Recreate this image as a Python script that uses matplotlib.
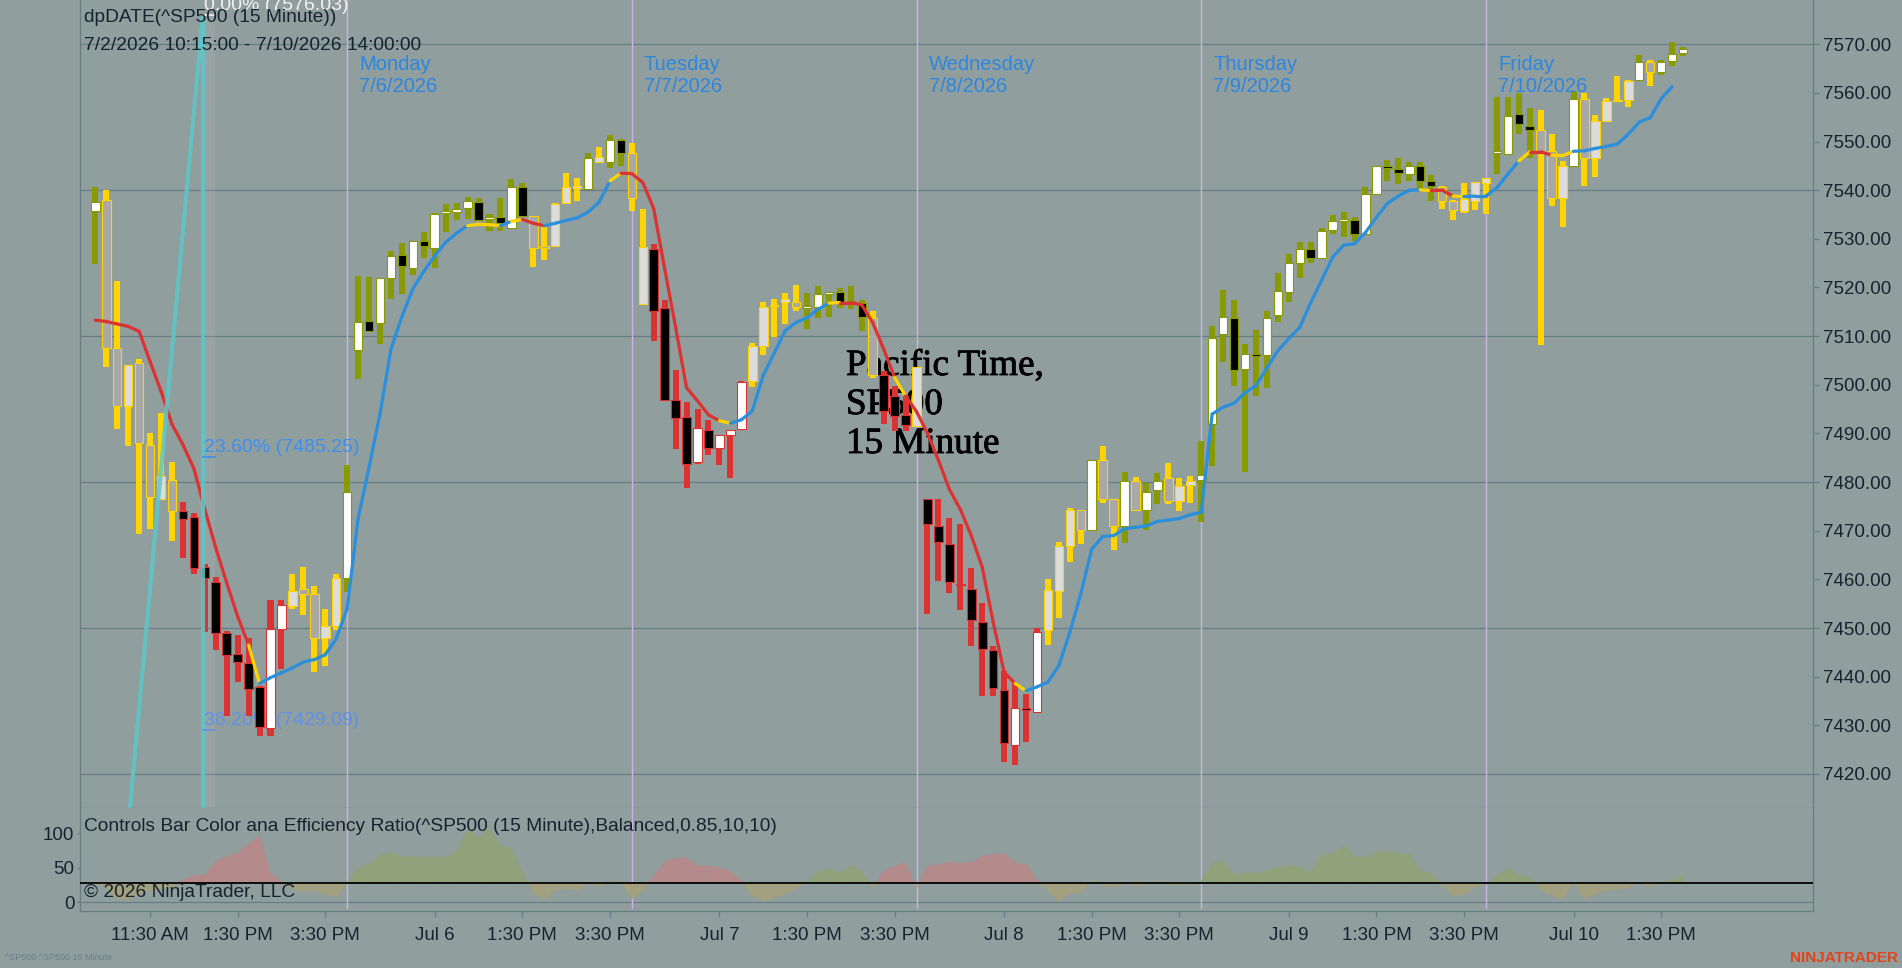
import numpy as np
import matplotlib
matplotlib.use('Agg')
import matplotlib.pyplot as plt
import matplotlib.patheffects as pe
from matplotlib.collections import LineCollection, PolyCollection

plt.rcParams['font.family'] = ['Liberation Sans', 'DejaVu Sans']

# ---------------- data ----------------
opens = [7535.8, 7537.9, 7507.6, 7495.7, 7504.4, 7487.7, 7476.6, 7480.5, 7474.1, 7472.8,
         7462.5, 7459.5, 7449.0, 7444.7, 7442.9, 7437.8, 7429.5, 7449.8, 7454.5, 7458.0,
         7457.0, 7448.0, 7450.5, 7460.2,
         7507.1, 7513.1, 7512.8, 7521.9, 7526.6, 7524.1, 7529.5, 7528.2, 7535.4, 7535.6,
         7536.3, 7537.5, 7534.0, 7534.4, 7532.2, 7540.6, 7534.6, 7528.6, 7528.6, 7537.3,
         7540.6, 7540.3, 7545.9, 7545.9, 7550.3, 7547.7,
         7516.7, 7528.0, 7515.7, 7496.9, 7493.3, 7484.1, 7490.8, 7487.0, 7489.7, 7490.9,
         7500.8, 7507.9, 7516.1, 7517.0, 7517.0, 7515.9, 7516.0, 7518.8, 7519.1, 7517.2,
         7516.9, 7513.8, 7502.0, 7497.7, 7493.8, 7491.6,
         7476.5, 7471.0, 7467.3, 7459.0, 7458.0, 7451.2, 7445.5, 7437.3, 7426.0, 7433.4,
         7432.8, 7449.6, 7457.7, 7466.8, 7474.3, 7470.2, 7484.6, 7476.6, 7470.9, 7480.3,
         7474.3, 7478.3, 7480.8, 7476.2, 7479.4, 7480.4,
         7491.9, 7510.4, 7513.7, 7503.2, 7506.3, 7506.1, 7514.3, 7519.0, 7525.1, 7527.9,
         7526.1, 7531.8, 7533.8, 7533.8, 7531.0, 7539.3, 7544.9, 7544.4, 7543.3, 7545.0,
         7541.9, 7540.6, 7537.8, 7535.7, 7537.8, 7541.4,
         7547.8, 7547.4, 7555.6, 7553.3, 7552.4, 7548.1, 7538.3, 7544.9, 7558.8, 7546.7,
         7554.3, 7558.3, 7558.6, 7562.6, 7566.4, 7564.2, 7566.6, 7568.2]
highs = [7540.7, 7540.0, 7521.3, 7504.1, 7505.2, 7490.1, 7494.2, 7484.2, 7475.9, 7473.7,
         7463.2, 7460.5, 7449.4, 7448.6, 7448.0, 7438.1, 7455.8, 7455.8, 7461.1, 7462.5,
         7458.6, 7453.9, 7461.1, 7483.6,
         7522.4, 7522.1, 7521.9, 7527.4, 7529.1, 7529.5, 7531.5, 7535.4, 7537.1, 7537.3,
         7538.7, 7538.5, 7535.2, 7538.3, 7542.3, 7541.4, 7534.7, 7532.7, 7537.3, 7543.5,
         7542.6, 7547.7, 7548.8, 7551.3, 7550.5, 7549.7,
         7536.1, 7529.0, 7517.5, 7503.1, 7496.4, 7495.1, 7492.7, 7489.7, 7490.7, 7500.8,
         7508.5, 7517.1, 7517.6, 7518.8, 7520.5, 7518.8, 7520.3, 7519.0, 7519.8, 7520.3,
         7517.5, 7515.2, 7502.9, 7499.8, 7497.7, 7503.6,
         7476.6, 7476.5, 7472.6, 7471.4, 7462.3, 7455.1, 7446.4, 7441.2, 7438.7, 7436.4,
         7449.9, 7460.1, 7467.7, 7474.6, 7474.3, 7484.6, 7487.5, 7476.6, 7482.0, 7481.0,
         7479.8, 7481.9, 7484.0, 7480.8, 7481.2, 7488.4,
         7512.0, 7519.5, 7517.4, 7508.4, 7511.2, 7515.2, 7522.9, 7526.9, 7529.4, 7529.3,
         7532.3, 7534.9, 7535.6, 7534.4, 7540.6, 7545.0, 7546.2, 7546.7, 7545.7, 7545.9,
         7543.1, 7540.8, 7537.9, 7541.4, 7541.6, 7542.6,
         7559.2, 7559.2, 7559.9, 7556.9, 7556.4, 7551.5, 7546.0, 7560.4, 7559.9, 7555.4,
         7559.0, 7563.4, 7562.6, 7567.7, 7566.7, 7566.8, 7570.4, 7569.5]
lows = [7524.8, 7503.7, 7490.9, 7487.5, 7469.3, 7470.3, 7476.5, 7467.8, 7464.4, 7461.1,
        7449.2, 7445.4, 7431.9, 7439.0, 7431.9, 7427.7, 7427.7, 7441.6, 7453.9, 7452.6,
        7440.9, 7442.2, 7449.5, 7457.4,
        7501.2, 7510.8, 7508.4, 7517.7, 7518.6, 7522.5, 7526.0, 7524.1, 7531.5, 7533.9,
        7534.0, 7533.8, 7531.6, 7531.6, 7532.0, 7534.4, 7524.3, 7525.6, 7528.6, 7537.3,
        7537.8, 7540.0, 7545.7, 7544.6, 7545.0, 7535.8,
        7516.6, 7508.9, 7496.9, 7486.9, 7478.7, 7483.7, 7485.6, 7483.6, 7480.8, 7490.9,
        7499.6, 7506.2, 7509.9, 7512.5, 7515.2, 7511.4, 7513.8, 7514.0, 7515.8, 7515.6,
        7511.1, 7501.3, 7491.9, 7490.5, 7490.5, 7491.6,
        7452.9, 7459.7, 7457.1, 7453.6, 7446.2, 7436.0, 7436.1, 7422.4, 7421.9, 7426.5,
        7432.8, 7446.6, 7452.0, 7463.6, 7467.3, 7470.2, 7475.8, 7466.1, 7467.5, 7474.1,
        7470.2, 7475.4, 7475.4, 7474.1, 7475.6, 7471.7,
        7483.4, 7504.7, 7499.8, 7482.0, 7497.7, 7499.4, 7512.9, 7517.1, 7521.9, 7525.1,
        7526.0, 7531.0, 7530.3, 7529.5, 7531.0, 7539.2, 7541.9, 7541.2, 7541.9, 7540.2,
        7537.8, 7536.1, 7533.9, 7535.4, 7535.9, 7535.1,
        7543.4, 7547.3, 7551.5, 7546.6, 7508.2, 7536.8, 7532.5, 7544.9, 7540.8, 7542.7,
        7554.3, 7558.2, 7557.1, 7562.5, 7561.4, 7563.7, 7565.5, 7567.6]
closes = [7537.5, 7507.6, 7495.6, 7504.1, 7488.0, 7476.9, 7481.3, 7474.0, 7472.5, 7462.3,
          7460.2, 7449.0, 7444.4, 7443.1, 7437.5, 7429.6, 7449.8, 7454.7, 7457.7, 7457.0,
          7448.0, 7450.5, 7460.2, 7477.9,
          7512.9, 7511.1, 7521.9, 7526.4, 7524.5, 7529.5, 7528.5, 7535.2, 7535.8, 7536.1,
          7537.7, 7533.9, 7534.5, 7533.2, 7540.6, 7534.6, 7528.2, 7528.2, 7537.1, 7540.7,
          7540.8, 7546.6, 7546.9, 7550.3, 7547.7, 7538.5,
          7528.4, 7515.2, 7496.9, 7493.1, 7483.7, 7491.2, 7487.1, 7489.7, 7490.7, 7500.5,
          7507.9, 7516.0, 7516.4, 7517.6, 7516.0, 7516.1, 7518.6, 7519.0, 7517.1, 7516.9,
          7513.9, 7502.0, 7494.7, 7493.6, 7491.7, 7503.6,
          7471.4, 7467.7, 7459.5, 7458.9, 7451.7, 7445.7, 7437.7, 7426.4, 7433.5, 7433.3,
          7449.1, 7457.9, 7466.8, 7474.3, 7470.2, 7484.6, 7476.6, 7470.9, 7480.3, 7474.3,
          7477.9, 7480.3, 7476.2, 7479.1, 7480.3, 7481.5,
          7509.7, 7514.0, 7503.1, 7506.4, 7506.0, 7513.8, 7519.3, 7525.1, 7528.0, 7526.1,
          7531.7, 7533.7, 7534.0, 7531.0, 7539.2, 7544.9, 7544.6, 7543.5, 7545.0, 7541.9,
          7540.8, 7537.8, 7536.0, 7538.2, 7541.6, 7542.5,
          7548.0, 7555.3, 7553.6, 7552.3, 7548.1, 7538.3, 7545.0, 7558.8, 7546.7, 7554.3,
          7558.4, 7558.5, 7562.5, 7566.4, 7564.2, 7566.4, 7568.1, 7569.0]
# bar trend colour per bar: o = up (olive), y = neutral (gold), r = down (red)
trend_jul2 = "o" + "y" * 7 + "r" * 10 + "y" * 5 + "o"
trend_jul6 = "o" * 16 + "y" * 5 + "o" + "y" + "o" + "o" + "y"
trend_jul7 = "y" + "r" * 9 + "y" * 5 + "o" * 6 + "y" + "r" * 3 + "y"
trend_jul8 = "r" * 11 + "y" * 4 + "o" + "y" * 2 + "o" + "y" + "o" * 2 + "y" * 3 + "o"
trend_jul9 = "o" * 21 + "y" * 5
trend_jul10 = "o" * 4 + "y" * 3 + "o" + "y" * 5 + "o" + "y" + "o" * 3
bar_trend = list(trend_jul2 + trend_jul6 + trend_jul7 + trend_jul8 + trend_jul9 + trend_jul10)

# moving average
ma = [7513.3, 7513.0, 7512.5, 7512.0, 7511.0, 7504.8, 7498.7, 7491.9, 7487.7, 7482.8,
      7474.4, 7466.5, 7459.3, 7452.4, 7446.5, 7438.6, 7439.8, 7440.8, 7441.8, 7443.0,
      7443.5, 7444.5, 7447.8, 7454.0,
      7472.5, 7483.0, 7494.0, 7507.3, 7514.0, 7519.7, 7523.3, 7526.5, 7529.3, 7531.2,
      7532.7, 7533.0, 7532.9, 7532.7, 7533.6, 7534.0, 7533.2, 7532.7, 7533.2, 7533.8,
      7534.3, 7535.5, 7537.5, 7541.9, 7543.5, 7543.4,
      7541.6, 7536.2, 7523.8, 7511.8, 7499.4, 7496.7, 7493.8, 7492.6, 7492.1, 7492.8,
      7494.6, 7501.9, 7506.5, 7511.1, 7512.8, 7513.8, 7515.5, 7516.8, 7516.9, 7516.9,
      7516.4, 7512.8, 7507.3, 7501.5, 7497.7, 7494.5,
      7490.0, 7484.5, 7478.5, 7474.4, 7469.0, 7462.5, 7451.2, 7440.9, 7438.6, 7437.1,
      7437.9, 7438.9, 7442.3, 7449.1, 7457.0, 7466.2, 7468.8, 7469.0, 7470.4, 7470.7,
      7471.0, 7471.9, 7472.2, 7472.5, 7473.3, 7473.8,
      7494.0, 7495.4, 7496.2, 7498.4, 7499.8, 7503.5, 7507.0, 7509.5, 7511.8, 7516.9,
      7521.5, 7526.2, 7528.7, 7529.0, 7531.3, 7534.4, 7537.3, 7538.8, 7540.0, 7540.1,
      7539.9, 7540.0, 7538.8, 7538.7, 7538.8, 7538.8,
      7540.5, 7543.3, 7546.0, 7547.9, 7547.9, 7547.2, 7547.1, 7548.0, 7548.1, 7548.6,
      7549.0, 7549.5, 7551.5, 7554.0, 7554.9, 7558.8, 7561.3, np.nan]
# colour of the MA segment ending at each bar: b = up, r = down, y = neutral
ma_trend = list("r" * 15 + "y" + "b" * 19 + "yyy" + "b" + "y" + "rr" + "b" * 6 + "y"
                + "r" * 9 + "y" + "b" * 9 + "y" + "r" * 5 + "y" + "r" * 10 + "y"
                + "b" * 36 + "y" + "rr" + "y" + "b" * 5 + "y" + "rr" + "yy" + "b" * 10)
# efficiency ratio indicator
er = [30, 20, 5, 5, 12, 17, 19, 22, 32, 39, 39, 59, 67, 71.5, 84, 97, 42, 30, 19, 16,
      17, 12, 7, 29,
      51, 55, 69, 72, 67, 66, 66, 65, 65, 73, 107, 92, 107, 83, 78, 42, 13, 4, 17, 20,
      17, 29, 22, 31, 29, 5,
      17, 39, 58, 64, 64, 53, 53, 50, 45, 31, 10, 1, 7, 12, 20, 30, 44, 49, 43, 53,
      46, 20, 46, 52, 58, 20,
      53, 55, 58, 57, 58, 66.7, 70.5, 70.5, 57, 55, 32, 17, 0.5, 13.5, 13.5, 32, 25, 21.6,
      30.4, 23, 29.5, 30.4, 25, 25.6, 26, 30.4,
      57, 60.4, 40, 43.5, 42, 45.9, 50.7, 53, 51.7, 43.5, 69, 70.5, 82.6, 65.7, 65.7, 72.9,
      73.9, 71.5, 70.5, 46, 42, 25, 10, 11.6, 23, 26,
      39, 49, 40, 37, 18, 10, 4, 30, 4, 12.6, 17.4, 18.4, 21.3, 29, 22, 29, 33, 39]
er_threshold = 27.5

session_bars = [24, 26, 26, 26, 26, 18]
day_names = ["Monday", "Tuesday", "Wednesday", "Thursday", "Friday"]
day_dates = ["7/6/2026", "7/7/2026", "7/8/2026", "7/9/2026", "7/10/2026"]

x_tick_pos = [5, 13, 21, 31, 39, 47, 57, 65, 73, 83, 91, 99, 109, 117, 125, 135, 143]
x_tick_lab = ["11:30 AM", "1:30 PM", "3:30 PM", "Jul 6", "1:30 PM", "3:30 PM",
              "Jul 7", "1:30 PM", "3:30 PM", "Jul 8", "1:30 PM", "3:30 PM",
              "Jul 9", "1:30 PM", "3:30 PM", "Jul 10", "1:30 PM"]
price_ticks = list(range(7420, 7571, 10))
price_grid = list(range(7420, 7571, 30))

fib_anchor_x = [-5.89, 9.82]
fib_anchor_price = [7191.37, 7576.03]
fib_ratios = [0.0, 0.236, 0.382]

# ---------------- style ----------------
BG = '#909e9d'
GRID = '#687c85'
TXT = '#17232c'
OLIVE = '#889a00'
YEL = '#ffd400'
RED = '#dc3232'
LIGHT = '#dcdcdc'
MED = '#a8a8a8'
BLUE = '#2a8fdc'
SEP = '#c9b3ea'
DAYTXT = '#2d86e0'
CYAN = '#5ec8c8'
FILL_R = '#b48a8a'
FILL_G = '#8fa27a'
FILL_Y = '#a2a07f'
trend_col = {'o': OLIVE, 'y': YEL, 'r': RED}
ma_col = {'b': BLUE, 'r': RED, 'y': YEL}

W, H = 1902, 968
fig = plt.figure(figsize=(W / 100, H / 100), dpi=100)
fig.patch.set_facecolor(BG)
ax = fig.add_axes([80 / W, 1 - 808 / H, (1813 - 80) / W, 808 / H])
axi = fig.add_axes([80 / W, 1 - 911 / H, (1813 - 80) / W, (911 - 808) / H])
for a in (ax, axi):
    a.set_facecolor(BG)
    for s in a.spines.values():
        s.set_color(GRID)
        s.set_linewidth(0.9)
    a.spines['top'].set_visible(False)

n = len(closes)
ax.set_xlim(-1.397, 156.87)
axi.set_xlim(-1.397, 156.87)
ax.set_ylim(7413.0, 7579.1)
axi.set_ylim(-12.6, 136.7)

# grid
for p in price_grid:
    ax.axhline(p, color=GRID, lw=0.9, zorder=1)
sep_idx = np.cumsum(session_bars)[:-1] - 1
for s in sep_idx:
    ax.axvline(s, color=SEP, lw=1.0, zorder=1.5)
    axi.axvline(s, color=SEP, lw=1.0, ymin=0.032, ymax=1, zorder=1.5)

# candles
o = np.array(opens); h = np.array(highs); l = np.array(lows); c = np.array(closes)
for i in range(n):
    t = bar_trend[i]
    col = trend_col[t]
    ax.bar(i, h[i] - l[i], bottom=l[i], width=0.55, color=col, zorder=3, linewidth=0)
    up = c[i] >= o[i]
    if t == 'y':
        fill = LIGHT if up else MED
    else:
        fill = 'white' if up else 'black'
    if abs(c[i] - o[i]) >= 0.3:
        bh, bot = abs(c[i] - o[i]), min(o[i], c[i])
    else:
        bh, bot = 0.3, (o[i] + c[i]) / 2 - 0.15
    ax.bar(i, bh, bottom=bot, width=0.78, facecolor=fill, edgecolor=col,
           linewidth=0.8, zorder=3.5)

# moving average
segs, cols = [], []
for i in range(1, n):
    if np.isnan(ma[i]) or np.isnan(ma[i - 1]):
        continue
    segs.append([(i - 1, ma[i - 1]), (i, ma[i])])
    cols.append(ma_col[ma_trend[i]])
ax.add_collection(LineCollection(segs, colors=cols, linewidths=2.3, zorder=4,
                                 capstyle='round'))

# fibonacci
fx0, fx1 = fib_anchor_x
fp0, fp1 = fib_anchor_price
ax.plot([fx0, fx1], [fp0, fp1], color=CYAN, lw=3.0, alpha=0.85, zorder=5,
        solid_capstyle='butt')
ax.plot([fx1, fx1], [fp0, fp1], color=CYAN, lw=3.0, alpha=0.85, zorder=5,
        solid_capstyle='butt')
ax.fill_between([fx1, fx1 + 1.1], fp0, fp1, color='white', alpha=0.07, zorder=1.8,
                linewidth=0)
fib_cols = ['#f2f2f2', '#3d8ff2', '#6190ea']
for r, fc in zip(fib_ratios, fib_cols):
    lvl = fp1 - r * (fp1 - fp0)
    ax.plot([fx1, fx1 + 1.1], [lvl, lvl], color=fc, lw=1.2, zorder=5)
    ax.text(fx1 + 0.1, lvl + 0.1, f"{r * 100:.2f}% ({lvl:.2f})", color=fc,
            fontsize=14, ha='left', va='bottom', zorder=2, clip_on=True)

# axes ticks
ax.set_xticks([])
ax.yaxis.tick_right()
ax.set_yticks(price_ticks)
ax.set_yticklabels([f"{p:.2f}" for p in price_ticks])
ax.tick_params(axis='y', length=4, width=0.9, color=GRID, pad=3, labelsize=13.5,
               labelcolor=TXT)

axi.set_yticks([0, 50, 100])
axi.set_yticklabels(['0', '50', '100'])
axi.tick_params(axis='y', length=2.5, width=0.9, color=GRID, pad=1.5, labelsize=13.5,
                labelcolor=TXT)
axi.set_xticks(x_tick_pos)
axi.set_xticklabels(x_tick_lab)
axi.tick_params(axis='x', length=4.3, width=0.9, color=GRID, pad=7, labelsize=13.5,
                labelcolor=TXT)

# indicator fills
polys, pcols = [], []


def above_col(t):
    return FILL_R if t == 'r' else FILL_G


thr = er_threshold
for i in range(1, n):
    v0, v1 = er[i - 1], er[i]
    t0, t1 = bar_trend[i - 1], bar_trend[i]
    a0, a1 = v0 > thr, v1 > thr
    if a0 == a1:
        if a0:
            col = above_col(t1 if t1 != 'y' else t0)
        else:
            col = FILL_Y
        polys.append([(i - 1, thr), (i - 1, v0), (i, v1), (i, thr)])
        pcols.append(col)
    else:
        xc = (i - 1) + (thr - v0) / (v1 - v0)
        polys.append([(i - 1, thr), (i - 1, v0), (xc, thr)])
        pcols.append(above_col(t0) if a0 else FILL_Y)
        polys.append([(xc, thr), (i, v1), (i, thr)])
        pcols.append(above_col(t1) if a1 else FILL_Y)
axi.add_collection(PolyCollection(polys, facecolors=pcols, edgecolors=pcols,
                                  linewidths=0.3, zorder=2))
axi.axhline(0, color=GRID, lw=0.9, zorder=1)
axi.axhline(thr, color='black', lw=1.3, zorder=3)

axi.text(4 / 1733, 0.825, "Controls Bar Color ana Efficiency Ratio(^SP500 (15 Minute),Balanced,0.85,10,10)",
         transform=axi.transAxes, fontsize=13.8, color=TXT, va='center', ha='left', zorder=6)
axi.text(4 / 1733, 0.178, "\u00a9 2026 NinjaTrader, LLC", transform=axi.transAxes,
         fontsize=13.8, color=TXT, va='center', ha='left', zorder=6)

# headers
ax.text(4 / 1733, 1 - 18 / 808, "dpDATE(^SP500 (15 Minute))", transform=ax.transAxes,
        fontsize=13.8, color=TXT, va='center', ha='left', zorder=6)
ax.text(4 / 1733, 1 - 45 / 808, "7/2/2026 10:15:00 - 7/10/2026 14:00:00",
        transform=ax.transAxes, fontsize=13.8, color=TXT, va='center', ha='left', zorder=6)
xt = ax.get_xaxis_transform()
for s, nm, dt in zip(sep_idx, day_names, day_dates):
    ax.text(s + 1.1, 1 - 64 / 808, nm, transform=xt, fontsize=14.5,
            color=DAYTXT, ha='left', va='center', zorder=6)
    ax.text(s + 1.1, 1 - 86 / 808, dt, transform=xt, fontsize=14.5,
            color=DAYTXT, ha='left', va='center', zorder=6)

# annotation (drawn beneath the candles, as in the original)
for txt, yb in zip(["Pacific Time,", "SP500", "15 Minute"], [375, 414, 453]):
    ax.text(846 / W, 1 - yb / H, txt, transform=fig.transFigure, fontsize=26.7,
            family='Liberation Serif', color='black', ha='left', va='baseline',
            zorder=2.5, path_effects=[pe.withStroke(linewidth=0.6, foreground='black')])

fig.text(1898 / W, 1 - 958 / H, "NINJATRADER", fontsize=11, fontweight='bold',
         color='#e2451c', ha='right', va='center')
fig.text(5 / W, 1 - 958 / H, "^SP500 ^SP500 15 Minute", fontsize=6.5,
         color='#6d7f85', ha='left', va='center')

fig.savefig('out.png', dpi=100, facecolor=BG)
